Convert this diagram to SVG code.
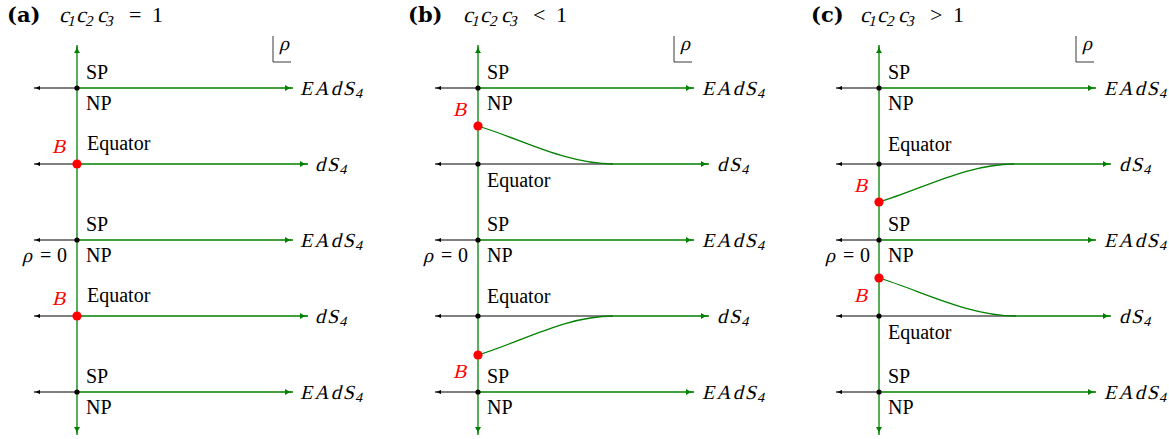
<svg xmlns="http://www.w3.org/2000/svg" width="1169" height="439" viewBox="0 0 1169 439">
<style>
.g{stroke:#008000;stroke-width:1.3;fill:none}
.k{stroke:#000;stroke-width:1;fill:none}
.kr{stroke:#222;stroke-width:0.9;fill:none}
.lbl{font-family:"Liberation Serif","DejaVu Serif",serif;font-size:20px;fill:#000}
.m{font-family:"Liberation Serif","DejaVu Serif",serif;font-size:20px;letter-spacing:2px;fill:#000}
.sub{font-size:14px;letter-spacing:0}
.up{font-family:"Liberation Serif","DejaVu Serif",serif;font-size:20px;fill:#000}
.red{fill:#ff0000}
.bold{font-family:"DejaVu Serif",serif;font-weight:bold;font-size:21px;fill:#000}
.tm{font-family:"Liberation Serif","DejaVu Serif",serif;font-size:22px;fill:#000}
.ts{font-size:15px}
.tu{font-family:"Liberation Serif","DejaVu Serif",serif;font-size:22px;fill:#000}
.dot{fill:#000}
.bdot{fill:#ff0000}
</style>
<defs>
<marker id="ag" viewBox="0 0 8 6" refX="8" refY="3" markerWidth="8" markerHeight="6" markerUnits="userSpaceOnUse" orient="auto-start-reverse"><path d="M0,0 Q3,2.4 8,3 Q3,3.6 0,6 z" fill="#008000"/></marker>
<marker id="ak" viewBox="0 0 6 4.4" refX="6" refY="2.2" markerWidth="6" markerHeight="4.4" markerUnits="userSpaceOnUse" orient="auto"><path d="M0,0 Q2.3,1.8 6,2.2 Q2.3,2.6 0,4.4 z" fill="#000"/></marker>
</defs>
<rect width="1169" height="439" fill="#fff"/>

<!-- ================= PANEL A ================= -->
<g id="panel-a">
  <g id="a-title">
    <text class="bold" x="7" y="22">(a)</text>
    <text class="tm" transform="translate(59,22) skewX(-14)"><tspan x="0" y="0">c</tspan><tspan class="ts" x="9" y="4">1</tspan><tspan x="17" y="0">c</tspan><tspan class="ts" x="27" y="4">2</tspan><tspan x="38" y="0">c</tspan><tspan class="ts" x="47" y="4">3</tspan></text>
    <text class="tu" x="129" y="22">=</text>
    <text class="tu" x="152" y="22">1</text>
  </g>
  <g id="a-rho-axis">
    <path class="kr" d="M273,36 V62 H291"/>
    <text class="m" transform="translate(279,50) skewX(-14)">ρ</text>
  </g>
  <g id="a-connectors">
    <line class="g" x1="77" y1="435" x2="77" y2="45" marker-start="url(#ag)" marker-end="url(#ag)"/>
    <line class="k" x1="77" y1="88" x2="34" y2="88" marker-end="url(#ak)"/>
    <line class="k" x1="77" y1="164" x2="34" y2="164" marker-end="url(#ak)"/>
    <line class="k" x1="77" y1="240" x2="34" y2="240" marker-end="url(#ak)"/>
    <line class="k" x1="77" y1="316" x2="34" y2="316" marker-end="url(#ak)"/>
    <line class="k" x1="77" y1="392" x2="34" y2="392" marker-end="url(#ak)"/>
    <line class="g" x1="77" y1="88" x2="293" y2="88" marker-end="url(#ag)"/>
    <line class="g" x1="77" y1="164" x2="308" y2="164" marker-end="url(#ag)"/>
    <line class="g" x1="77" y1="240" x2="293" y2="240" marker-end="url(#ag)"/>
    <line class="g" x1="77" y1="316" x2="308" y2="316" marker-end="url(#ag)"/>
    <line class="g" x1="77" y1="392" x2="293" y2="392" marker-end="url(#ag)"/>
  </g>
  <g id="a-row1">
    <circle class="dot" cx="77" cy="88" r="2.6"/>
    <text class="lbl" x="86" y="79">SP</text>
    <text class="lbl" x="86" y="110">NP</text>
    <text class="m" transform="translate(300,95) skewX(-14)">EAdS<tspan class="sub" dy="3">4</tspan></text>
  </g>
  <g id="a-row2">
    <circle class="bdot" cx="77" cy="164" r="4.6"/>
    <text class="m red" transform="translate(52,153) skewX(-14)">B</text>
    <text class="lbl" x="87" y="150">Equator</text>
    <text class="m" transform="translate(315,171) skewX(-14)">dS<tspan class="sub" dy="3">4</tspan></text>
  </g>
  <g id="a-row3">
    <circle class="dot" cx="77" cy="240" r="2.6"/>
    <text class="lbl" x="86" y="231">SP</text>
    <text class="lbl" x="86" y="262">NP</text>
    <text class="m" transform="translate(300,247) skewX(-14)">EAdS<tspan class="sub" dy="3">4</tspan></text>
    <text class="m" transform="translate(22,262) skewX(-14)">ρ</text>
    <text class="up" x="40" y="262">=</text>
    <text class="up" x="57" y="262">0</text>
  </g>
  <g id="a-row4">
    <circle class="bdot" cx="77" cy="316" r="4.6"/>
    <text class="m red" transform="translate(52,305) skewX(-14)">B</text>
    <text class="lbl" x="87" y="302">Equator</text>
    <text class="m" transform="translate(315,323) skewX(-14)">dS<tspan class="sub" dy="3">4</tspan></text>
  </g>
  <g id="a-row5">
    <circle class="dot" cx="77" cy="392" r="2.6"/>
    <text class="lbl" x="86" y="383">SP</text>
    <text class="lbl" x="86" y="414">NP</text>
    <text class="m" transform="translate(300,399) skewX(-14)">EAdS<tspan class="sub" dy="3">4</tspan></text>
  </g>
</g>

<!-- ================= PANEL B ================= -->
<g id="panel-b" transform="translate(401,0)">
  <g id="b-title">
    <text class="bold" x="7" y="22">(b)</text>
    <text class="tm" transform="translate(62,22) skewX(-14)"><tspan x="0" y="0">c</tspan><tspan class="ts" x="9" y="4">1</tspan><tspan x="17" y="0">c</tspan><tspan class="ts" x="27" y="4">2</tspan><tspan x="38" y="0">c</tspan><tspan class="ts" x="47" y="4">3</tspan></text>
    <text class="tu" x="132" y="22">&lt;</text>
    <text class="tu" x="155" y="22">1</text>
  </g>
  <g id="b-rho-axis">
    <path class="kr" d="M273,36 V62 H291"/>
    <text class="m" transform="translate(279,50) skewX(-14)">ρ</text>
  </g>
  <g id="b-connectors">
    <line class="g" x1="77" y1="435" x2="77" y2="45" marker-start="url(#ag)" marker-end="url(#ag)"/>
    <line class="k" x1="77" y1="88" x2="34" y2="88" marker-end="url(#ak)"/>
    <line class="k" x1="77" y1="164" x2="34" y2="164" marker-end="url(#ak)"/>
    <line class="k" x1="77" y1="240" x2="34" y2="240" marker-end="url(#ak)"/>
    <line class="k" x1="77" y1="316" x2="34" y2="316" marker-end="url(#ak)"/>
    <line class="k" x1="77" y1="392" x2="34" y2="392" marker-end="url(#ak)"/>
    <line class="k" x1="77" y1="164" x2="212" y2="164"/>
    <line class="k" x1="77" y1="316" x2="212" y2="316"/>
    <line class="g" x1="77" y1="88" x2="293" y2="88" marker-end="url(#ag)"/>
    <path class="g" d="M77,126 C120,139 165,164 212,164 H308" marker-end="url(#ag)"/>
    <line class="g" x1="77" y1="240" x2="293" y2="240" marker-end="url(#ag)"/>
    <path class="g" d="M77,355 C120,342 165,316 212,316 H308" marker-end="url(#ag)"/>
    <line class="g" x1="77" y1="392" x2="293" y2="392" marker-end="url(#ag)"/>
  </g>
  <g id="b-row1">
    <circle class="dot" cx="77" cy="88" r="2.6"/>
    <text class="lbl" x="86" y="79">SP</text>
    <text class="lbl" x="86" y="110">NP</text>
    <text class="m" transform="translate(301,95) skewX(-14)">EAdS<tspan class="sub" dy="3">4</tspan></text>
  </g>
  <g id="b-bound-top">
    <circle class="bdot" cx="77" cy="126" r="4.6"/>
    <text class="m red" transform="translate(52,116) skewX(-14)">B</text>
  </g>
  <g id="b-row2">
    <circle class="dot" cx="77" cy="164" r="2.6"/>
    <text class="lbl" x="86" y="187">Equator</text>
    <text class="m" transform="translate(316,171) skewX(-14)">dS<tspan class="sub" dy="3">4</tspan></text>
  </g>
  <g id="b-row3">
    <circle class="dot" cx="77" cy="240" r="2.6"/>
    <text class="lbl" x="86" y="231">SP</text>
    <text class="lbl" x="86" y="262">NP</text>
    <text class="m" transform="translate(301,247) skewX(-14)">EAdS<tspan class="sub" dy="3">4</tspan></text>
    <text class="m" transform="translate(22,262) skewX(-14)">ρ</text>
    <text class="up" x="40" y="262">=</text>
    <text class="up" x="57" y="262">0</text>
  </g>
  <g id="b-row4">
    <circle class="dot" cx="77" cy="316" r="2.6"/>
    <text class="lbl" x="86" y="303">Equator</text>
    <text class="m" transform="translate(316,323) skewX(-14)">dS<tspan class="sub" dy="3">4</tspan></text>
  </g>
  <g id="b-bound-bottom">
    <circle class="bdot" cx="77" cy="355" r="4.6"/>
    <text class="m red" transform="translate(52,378) skewX(-14)">B</text>
  </g>
  <g id="b-row5">
    <circle class="dot" cx="77" cy="392" r="2.6"/>
    <text class="lbl" x="86" y="383">SP</text>
    <text class="lbl" x="86" y="414">NP</text>
    <text class="m" transform="translate(301,399) skewX(-14)">EAdS<tspan class="sub" dy="3">4</tspan></text>
  </g>
</g>

<!-- ================= PANEL C ================= -->
<g id="panel-c" transform="translate(802,0)">
  <g id="c-title">
    <text class="bold" x="9" y="22">(c)</text>
    <text class="tm" transform="translate(58,22) skewX(-14)"><tspan x="0" y="0">c</tspan><tspan class="ts" x="9" y="4">1</tspan><tspan x="17" y="0">c</tspan><tspan class="ts" x="27" y="4">2</tspan><tspan x="38" y="0">c</tspan><tspan class="ts" x="47" y="4">3</tspan></text>
    <text class="tu" x="128" y="22">&gt;</text>
    <text class="tu" x="151" y="22">1</text>
  </g>
  <g id="c-rho-axis">
    <path class="kr" d="M274,36 V62 H292"/>
    <text class="m" transform="translate(280,50) skewX(-14)">ρ</text>
  </g>
  <g id="c-connectors">
    <line class="g" x1="77" y1="435" x2="77" y2="45" marker-start="url(#ag)" marker-end="url(#ag)"/>
    <line class="k" x1="77" y1="88" x2="34" y2="88" marker-end="url(#ak)"/>
    <line class="k" x1="77" y1="164" x2="34" y2="164" marker-end="url(#ak)"/>
    <line class="k" x1="77" y1="240" x2="34" y2="240" marker-end="url(#ak)"/>
    <line class="k" x1="77" y1="316" x2="34" y2="316" marker-end="url(#ak)"/>
    <line class="k" x1="77" y1="392" x2="34" y2="392" marker-end="url(#ak)"/>
    <line class="k" x1="77" y1="164" x2="212" y2="164"/>
    <line class="k" x1="77" y1="316" x2="214" y2="316"/>
    <line class="g" x1="77" y1="88" x2="294" y2="88" marker-end="url(#ag)"/>
    <path class="g" d="M77,202 C120,189 165,164 212,164 H309" marker-end="url(#ag)"/>
    <line class="g" x1="77" y1="240" x2="294" y2="240" marker-end="url(#ag)"/>
    <path class="g" d="M77,278 C120,291 166,316 214,316 H309" marker-end="url(#ag)"/>
    <line class="g" x1="77" y1="392" x2="294" y2="392" marker-end="url(#ag)"/>
  </g>
  <g id="c-row1">
    <circle class="dot" cx="77" cy="88" r="2.6"/>
    <text class="lbl" x="86" y="79">SP</text>
    <text class="lbl" x="86" y="110">NP</text>
    <text class="m" transform="translate(302,95) skewX(-14)">EAdS<tspan class="sub" dy="3">4</tspan></text>
  </g>
  <g id="c-row2">
    <circle class="dot" cx="77" cy="164" r="2.6"/>
    <text class="lbl" x="86" y="151">Equator</text>
    <text class="m" transform="translate(317,171) skewX(-14)">dS<tspan class="sub" dy="3">4</tspan></text>
  </g>
  <g id="c-bound-top">
    <circle class="bdot" cx="77" cy="202" r="4.6"/>
    <text class="m red" transform="translate(52,192) skewX(-14)">B</text>
  </g>
  <g id="c-row3">
    <circle class="dot" cx="77" cy="240" r="2.6"/>
    <text class="lbl" x="86" y="231">SP</text>
    <text class="lbl" x="86" y="262">NP</text>
    <text class="m" transform="translate(302,247) skewX(-14)">EAdS<tspan class="sub" dy="3">4</tspan></text>
    <text class="m" transform="translate(23,262) skewX(-14)">ρ</text>
    <text class="up" x="41" y="262">=</text>
    <text class="up" x="58" y="262">0</text>
  </g>
  <g id="c-bound-bottom">
    <circle class="bdot" cx="77" cy="278" r="4.6"/>
    <text class="m red" transform="translate(52,302) skewX(-14)">B</text>
  </g>
  <g id="c-row4">
    <circle class="dot" cx="77" cy="316" r="2.6"/>
    <text class="lbl" x="86" y="339">Equator</text>
    <text class="m" transform="translate(317,323) skewX(-14)">dS<tspan class="sub" dy="3">4</tspan></text>
  </g>
  <g id="c-row5">
    <circle class="dot" cx="77" cy="392" r="2.6"/>
    <text class="lbl" x="86" y="383">SP</text>
    <text class="lbl" x="86" y="414">NP</text>
    <text class="m" transform="translate(302,399) skewX(-14)">EAdS<tspan class="sub" dy="3">4</tspan></text>
  </g>
</g>
</svg>
